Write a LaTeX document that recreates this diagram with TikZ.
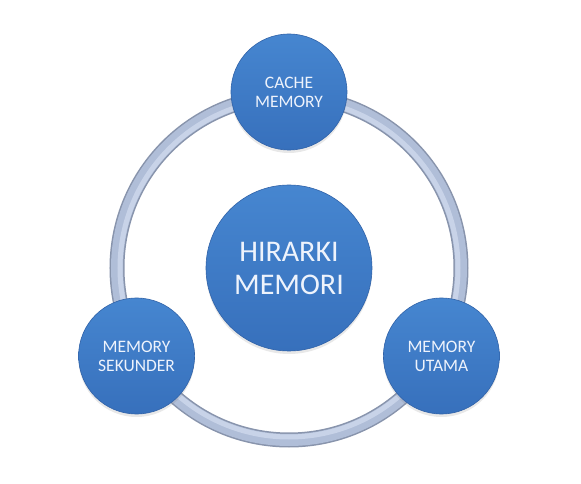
\documentclass[tikz,border=0pt]{standalone}
\usepackage{fontspec}
\setmainfont{Carlito}
\usetikzlibrary{shadows}

\begin{document}
\begin{tikzpicture}[x=1pt,y=1pt]
  \definecolor{kBlueTop}{RGB}{70,134,208}
  \definecolor{kBlueBot}{RGB}{55,112,188}
  \definecolor{kRim}{RGB}{48,98,168}
  \definecolor{kText}{RGB}{238,243,252}
  \definecolor{kRingEdge}{RGB}{136,148,172}
  \definecolor{kRing}{RGB}{176,190,216}
  \definecolor{kRingLight}{RGB}{200,211,232}

  \tikzset{
    ball/.style={circle,draw=kRim,line width=0.6pt,
                 top color=kBlueTop,bottom color=kBlueBot,
                 text=kText,align=center,inner sep=0pt,
                 drop shadow={opacity=0.18,shadow xshift=0pt,shadow yshift=-3pt}},
    hubball/.style={ball,minimum size=166pt,font=\fontsize{30}{33}\selectfont},
    satball/.style={ball,minimum size=116pt,font=\fontsize{17.5}{19}\selectfont}
  }

  \useasboundingbox (-289,-216) rectangle (292,268);

  % ring
  \draw[line width=15pt,color=kRingEdge] (0,0) circle (172);
  \draw[line width=12pt,color=kRing] (0,0) circle (172);
  \draw[line width=5pt,color=kRingLight] (0,0) circle (169);

  \node[hubball] (hub) at (0,0) {HIRARKI\\MEMORI};

  \node[satball] (cache)    at (90:176)  {CACHE\\MEMORY};
  \node[satball] (sekunder) at (210:176) {MEMORY\\SEKUNDER};
  \node[satball] (utama)    at (330:176) {MEMORY\\UTAMA};
\end{tikzpicture}
\end{document}
